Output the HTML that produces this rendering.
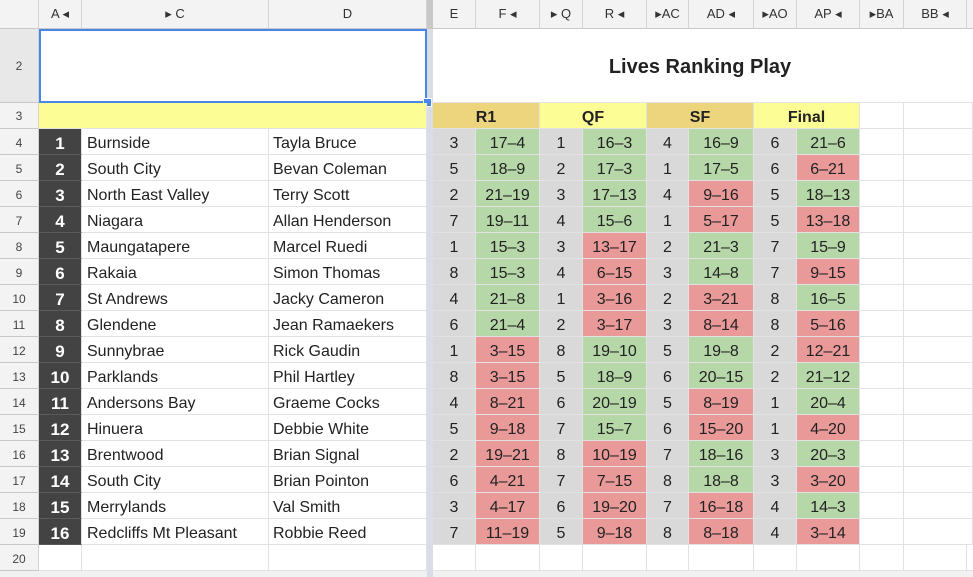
<!DOCTYPE html>
<html><head><meta charset="utf-8">
<style>
body{margin:0;width:973px;height:577px;overflow:hidden;background:#f1f1f1;font-family:"Liberation Sans",Arial,sans-serif;color:#222;position:relative}
.c{position:absolute;box-sizing:border-box;border-right:1px solid #e2e2e2;border-bottom:1px solid #e2e2e2;font-size:16px;line-height:29px;white-space:nowrap;overflow:hidden}
.h{background:#f3f3f3;color:#333;font-size:14px;text-align:center;border-right:1px solid #d4d4d4;border-bottom:1px solid #c8c8c8}
.rh{font-size:12px;color:#444}
</style></head><body>
<div id="root"></div>
<script>
const ranks=[1,2,3,4,5,6,7,8,9,10,11,12,13,14,15,16];
const teams=["Burnside","South City","North East Valley","Niagara","Maungatapere","Rakaia","St Andrews","Glendene","Sunnybrae","Parklands","Andersons Bay","Hinuera","Brentwood","South City","Merrylands","Redcliffs Mt Pleasant"];
const players=["Tayla Bruce","Bevan Coleman","Terry Scott","Allan Henderson","Marcel Ruedi","Simon Thomas","Jacky Cameron","Jean Ramaekers","Rick Gaudin","Phil Hartley","Graeme Cocks","Debbie White","Brian Signal","Brian Pointon","Val Smith","Robbie Reed"];
const rounds=["R1","QF","SF","Final"];
const r1Seed=[3,5,2,7,1,8,4,6,1,8,4,5,2,6,3,7];
const r1Score=["17–4","18–9","21–19","19–11","15–3","15–3","21–8","21–4","3–15","3–15","8–21","9–18","19–21","4–21","4–17","11–19"];
const qfSeed=[1,2,3,4,3,4,1,2,8,5,6,7,8,7,6,5];
const qfScore=["16–3","17–3","17–13","15–6","13–17","6–15","3–16","3–17","19–10","18–9","20–19","15–7","10–19","7–15","19–20","9–18"];
const sfSeed=[4,1,4,1,2,3,2,3,5,6,5,6,7,8,7,8];
const sfScore=["16–9","17–5","9–16","5–17","21–3","14–8","3–21","8–14","19–8","20–15","8–19","15–20","18–16","18–8","16–18","8–18"];
const fSeed=[6,6,5,5,7,7,8,8,2,2,1,1,3,3,4,4];
const fScore=["21–6","6–21","18–13","13–18","15–9","9–15","16–5","5–16","12–21","21–12","20–4","4–20","20–3","3–20","14–3","3–14"];
const seeds=[r1Seed,qfSeed,sfSeed,fSeed];
const scores=[r1Score,qfScore,sfScore,fScore];

const root=document.getElementById('root');
function cell(x,y,w,h,txt,cls,style,name,inter){
  const d=document.createElement('div');
  d.className='c '+(cls||'');
  d.style.left=x+'px';d.style.top=y+'px';d.style.width=w+'px';d.style.height=h+'px';
  if(style)d.style.cssText+=style;
  d.textContent=txt;
  
  
  root.appendChild(d);return d;
}
const cols=[["A",39,43],["C",82,187],["D",269,158],["E",433,43],["F",476,64],["Q",540,43],["R",583,64],["AC",647,42],["AD",689,65],["AO",754,43],["AP",797,63],["BA",860,44],["BB",904,63],["",967,10]];
const colLabels=["A  ◂","▸        C","D","E","F      ◂","▸ Q","R      ◂","▸AC","AD     ◂","▸AO","AP     ◂","▸BA","BB   ◂",""];
cell(0,0,39,29,"","h","",'corner-header',false);
cols.forEach((c,i)=>{cell(c[1],0,c[2],29,colLabels[i],"h","line-height:28px;font-size:13px;",'column-header-'+(c[0]||'x').toLowerCase(),true);});
cell(427,0,6,29,"","", "background:#c8c8c8;border:none;",'freeze-divider-header',false);
cell(0,29,39,74,"2","h rh","line-height:74px;background:#e8e8e8;",'row-header-2',true);
cell(0,103,39,26,"3","h rh","line-height:26px;",'row-header-3',true);
for(let r=0;r<17;r++){cell(0,129+r*26,39,26,String(r+4),"h rh","line-height:28px;",'row-header-'+(r+4),true);}
cell(427,29,6,548,"","","background:#d9dde4;border:none;",'freeze-divider',false);
cell(39,29,388,74,"","","background:#fff;border:2px solid #4a86e8;",'selected-range',true);
cell(433,29,540,74,"","","background:#fff;border-right:none;",'title-area',false);
cell(433,29,534,74,"Lives Ranking Play","","background:transparent;border:none;text-align:center;font-weight:bold;font-size:20px;line-height:76px;",'chart-title',false);
const hd=document.createElement('div');hd.style.cssText="position:absolute;left:423px;top:98px;width:7px;height:7px;background:#4a86e8;border:1px solid #fff";


root.appendChild(hd);
cell(39,103,388,26,"","","background:#fdfd96;",'yellow-header-band',false);
const rx=[433,540,647,754];const rw=[107,107,107,106];
rounds.forEach((r,i)=>{cell(rx[i],103,rw[i],26,r,"",(i%2?"background:#fdfd96;":"background:#ecd57c;")+"text-align:center;font-weight:bold;",'round-header-'+r.toLowerCase(),false);});
cell(860,103,44,26,"","","background:#fff;",'empty-cell',false);
cell(904,103,69,26,"","","background:#fff;",'empty-cell',false);
for(let i=0;i<ranks.length;i++){
  const y=129+i*26;
  cell(39,y,43,26,String(ranks[i]),"","background:#434343;color:#fff;text-align:center;font-weight:bold;font-size:17px;border-bottom:1px solid #5a5a5a;",'rank-'+ranks[i],false);
  cell(82,y,187,26,teams[i],"","background:#fff;padding-left:5px;",'team-name',false);
  cell(269,y,158,26,players[i],"","background:#fff;padding-left:4px;",'player-name',false);
  for(let k=0;k<4;k++){
    const sx=cols[3+k*2][1],sw=cols[3+k*2][2],px=cols[4+k*2][1],pw=cols[4+k*2][2];
    cell(sx,y,sw,26,String(seeds[k][i]),"","background:#d9d9d9;text-align:center;",'seed-'+rounds[k].toLowerCase(),false);
    const p=scores[k][i].split('–').map(Number);
    cell(px,y,pw,26,scores[k][i],"","background:"+(p[0]>p[1]?"#b6d7a8":"#ea9999")+";text-align:center;",'score-'+rounds[k].toLowerCase(),false);
  }
  cell(860,y,44,26,"","","background:#fff;",'empty-cell',false);
  cell(904,y,69,26,"","","background:#fff;",'empty-cell',false);
}
const y20=129+16*26;
cell(39,y20,43,26,"","","background:#fff;",'empty-cell',false);
cell(82,y20,187,26,"","","background:#fff;",'empty-cell',false);
cell(269,y20,158,26,"","","background:#fff;",'empty-cell',false);
for(let k=3;k<13;k++){cell(cols[k][1],y20,cols[k][2],26,"","","background:#fff;",'empty-cell',false);}
cell(967,y20,10,26,"","","background:#fff;",'empty-cell',false);
</script>
</body></html>
